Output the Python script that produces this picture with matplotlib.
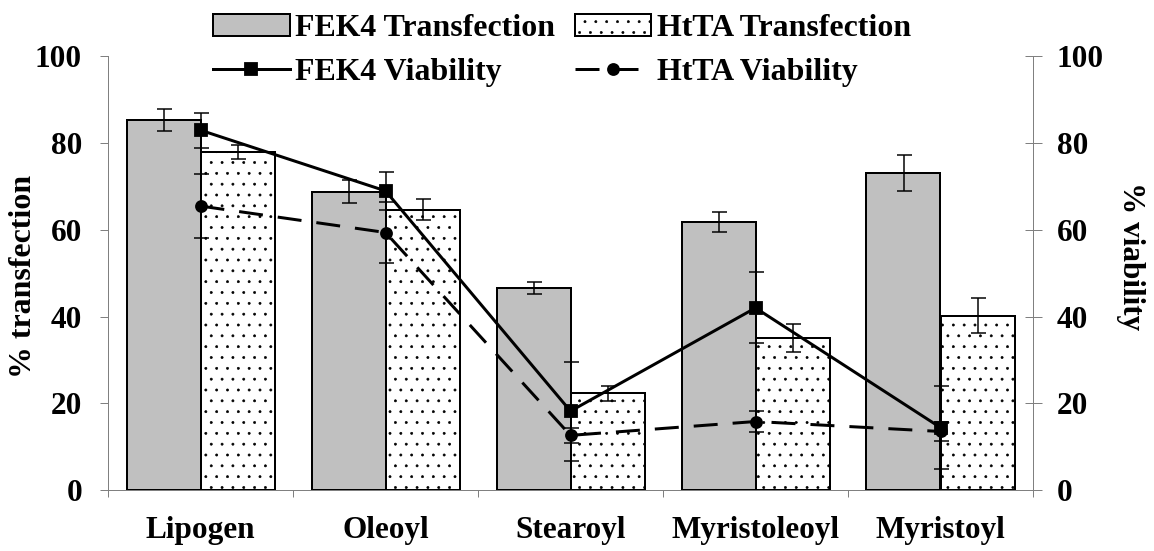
import numpy as np
import matplotlib
matplotlib.use("Agg")
import matplotlib.pyplot as plt
from matplotlib.font_manager import FontProperties

## data ##
categories = ["Lipogen", "Oleoyl", "Stearoyl", "Myristoleoyl", "Myristoyl"]
fek4_transfection = [85.3, 68.8, 46.6, 61.8, 73.1]
fek4_transfection_err = [2.5, 2.7, 1.4, 2.3, 4.2]
htta_transfection = [77.9, 64.7, 22.3, 35.1, 40.2]
htta_transfection_err = [1.6, 2.4, 1.7, 3.2, 4.0]
fek4_viability = [83.0, 69.0, 18.2, 42.0, 14.4]
fek4_viability_err = [4.0, 4.3, 11.4, 8.2, 9.6]
htta_viability = [65.5, 59.4, 12.6, 15.8, 13.5]
htta_viability_err = [7.3, 7.1, 1.8, 2.5, 2.2]

## style ##
DPI = 130
PT = 72.0 / DPI  # points per pixel
FS = 17.3
FS_LEG = 17.7
W, H = 1154, 551
plt.rcParams['font.family'] = ['Liberation Serif', 'DejaVu Serif']
plt.rcParams['font.weight'] = 'bold'
plt.rcParams['hatch.linewidth'] = 0.35
axis_grey = '#808080'
bold_font = FontProperties(family=['Liberation Serif', 'DejaVu Serif'], weight='bold', size=FS)
leg_font = FontProperties(family=['Liberation Serif', 'DejaVu Serif'], weight='bold', size=FS_LEG)

fig = plt.figure(figsize=(W / DPI, H / DPI), dpi=DPI)
ax = fig.add_axes([108 / W, 1 - 490 / H, (1033 - 108) / W, (490 - 56.5) / H])
ax2 = ax.twinx()

x = np.arange(len(categories))
w = 0.40

b1 = ax.bar(x - w / 2, fek4_transfection, w, color='#c0c0c0', edgecolor='black',
            linewidth=2 * PT, label='FEK4 Transfection', zorder=2)
b2 = ax.bar(x + w / 2, htta_transfection, w, color='white', edgecolor='black',
            linewidth=2 * PT, hatch='..', label='HtTA Transfection', zorder=2)
err_kw = dict(fmt='none', ecolor='black', elinewidth=1.5 * PT, capsize=7.5 * PT, capthick=1.5 * PT)
ax.errorbar(x - w / 2, fek4_transfection, yerr=fek4_transfection_err, zorder=3, **err_kw)
ax.errorbar(x + w / 2, htta_transfection, yerr=htta_transfection_err, zorder=3, **err_kw)

ax2.errorbar(x, fek4_viability, yerr=fek4_viability_err, zorder=2, **err_kw)
ax2.errorbar(x, htta_viability, yerr=htta_viability_err, zorder=2, **err_kw)
l1, = ax2.plot(x, fek4_viability, color='black', lw=3 * PT, marker='s', ms=12 * PT,
               label='FEK4 Viability', zorder=3)
l2, = ax2.plot(x, htta_viability, color='black', lw=3 * PT, ls=(0, (8, 5)), marker='o',
               ms=11 * PT, label='HtTA Viability', zorder=3)

for a in (ax, ax2):
    a.set_xlim(-0.5, len(categories) - 0.5)
    a.set_ylim(0, 100)
    a.set_yticks(range(0, 101, 20))
    a.spines['top'].set_visible(False)
    for s in a.spines.values():
        s.set_color(axis_grey)
        s.set_linewidth(1 * PT)
ax.spines['right'].set_visible(False)
ax2.spines['left'].set_visible(False)
ax2.spines['bottom'].set_visible(False)

ax.tick_params(axis='y', direction='out', length=8 * PT, width=1 * PT, color=axis_grey,
               pad=18 * PT, labelsize=FS)
ax2.tick_params(axis='y', direction='inout', length=17 * PT, width=1 * PT, color=axis_grey,
                pad=15 * PT, labelsize=FS)

ax.set_xticks(np.arange(-0.5, len(categories), 1))
ax.set_xticklabels([])
ax.set_xticks(x, minor=True)
ax.set_xticklabels(categories, minor=True)
ax.tick_params(axis='x', which='major', direction='out', length=7 * PT, width=1 * PT, color=axis_grey)
ax.tick_params(axis='x', which='minor', length=0, pad=26 * PT, labelsize=FS)

fig.text(24 / W, 1 - 276 / H, '% transfection', rotation=90, ha='center', va='center',
         fontproperties=leg_font)
fig.text(1131 / W, 1 - 256 / H, '% viability', rotation=270, ha='center', va='center',
         fontproperties=bold_font)

leg = fig.legend([b1, l1, b2, l2], ['FEK4 Transfection', 'FEK4 Viability', 'HtTA Transfection', 'HtTA Viability'],
                 loc='upper left', bbox_to_anchor=(213 / W, 1 - 14 / H), ncol=2, frameon=False,
                 borderpad=0, borderaxespad=0, handlelength=2.4, handletextpad=0.18,
                 columnspacing=0.6, labelspacing=0.45, prop=leg_font)
for t in leg.get_texts():
    t.set_fontproperties(leg_font.copy())

fig.savefig('out.png', dpi=DPI)
